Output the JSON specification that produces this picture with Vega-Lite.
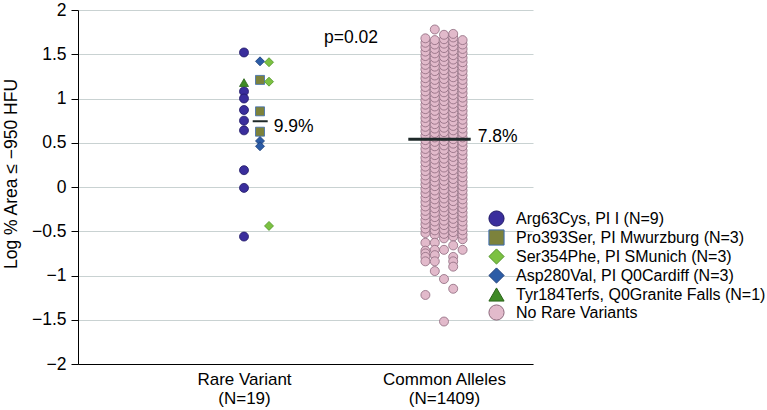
{
"$schema":"https://vega.github.io/schema/vega-lite/v6.json",
"width":455,"height":354,
"autosize":{"type":"none"},
"padding":{"left":78,"top":10,"right":234,"bottom":46},
"background":"white",
"config":{"font":"Liberation Sans","view":{"stroke":null},"axis":{"labelFont":"Liberation Sans","titleFont":"Liberation Sans","labelColor":"#000","titleColor":"#000","domainColor":"#000","tickColor":"#000"},"legend":{"labelFont":"Liberation Sans"}},
"datasets":{
"pts":[
{"g":"N","x":1.907,"y":-0.52},{"g":"N","x":1.907,"y":-0.47},{"g":"N","x":1.907,"y":-0.42},{"g":"N","x":1.907,"y":-0.37},{"g":"N","x":1.907,"y":-0.32},{"g":"N","x":1.907,"y":-0.27},{"g":"N","x":1.907,"y":-0.22},{"g":"N","x":1.907,"y":-0.17},{"g":"N","x":1.907,"y":-0.12},{"g":"N","x":1.907,"y":-0.07},{"g":"N","x":1.907,"y":-0.02},{"g":"N","x":1.907,"y":0.03},{"g":"N","x":1.907,"y":0.08},{"g":"N","x":1.907,"y":0.13},{"g":"N","x":1.907,"y":0.18},{"g":"N","x":1.907,"y":0.23},{"g":"N","x":1.907,"y":0.28},{"g":"N","x":1.907,"y":0.33},{"g":"N","x":1.907,"y":0.38},{"g":"N","x":1.907,"y":0.43},{"g":"N","x":1.907,"y":0.48},{"g":"N","x":1.907,"y":0.53},{"g":"N","x":1.907,"y":0.58},{"g":"N","x":1.907,"y":0.63},{"g":"N","x":1.907,"y":0.68},{"g":"N","x":1.907,"y":0.73},{"g":"N","x":1.907,"y":0.78},{"g":"N","x":1.907,"y":0.83},{"g":"N","x":1.907,"y":0.88},{"g":"N","x":1.907,"y":0.93},{"g":"N","x":1.907,"y":0.98},{"g":"N","x":1.907,"y":1.03},{"g":"N","x":1.907,"y":1.08},{"g":"N","x":1.907,"y":1.13},{"g":"N","x":1.907,"y":1.18},{"g":"N","x":1.907,"y":1.23},{"g":"N","x":1.907,"y":1.28},{"g":"N","x":1.907,"y":1.33},{"g":"N","x":1.907,"y":1.38},{"g":"N","x":1.907,"y":1.43},{"g":"N","x":1.907,"y":1.48},{"g":"N","x":1.907,"y":1.53},{"g":"N","x":1.907,"y":1.58},{"g":"N","x":1.907,"y":1.63},{"g":"N","x":1.907,"y":1.68},
{"g":"N","x":1.907,"y":-0.63},{"g":"N","x":1.907,"y":-0.72},{"g":"N","x":1.907,"y":-0.75},{"g":"N","x":1.907,"y":-0.79},{"g":"N","x":1.907,"y":-0.84},{"g":"N","x":1.907,"y":-1.22},
{"g":"N","x":1.954,"y":-0.54},{"g":"N","x":1.954,"y":-0.49},{"g":"N","x":1.954,"y":-0.44},{"g":"N","x":1.954,"y":-0.39},{"g":"N","x":1.954,"y":-0.34},{"g":"N","x":1.954,"y":-0.29},{"g":"N","x":1.954,"y":-0.24},{"g":"N","x":1.954,"y":-0.19},{"g":"N","x":1.954,"y":-0.14},{"g":"N","x":1.954,"y":-0.09},{"g":"N","x":1.954,"y":-0.04},{"g":"N","x":1.954,"y":0.01},{"g":"N","x":1.954,"y":0.06},{"g":"N","x":1.954,"y":0.11},{"g":"N","x":1.954,"y":0.16},{"g":"N","x":1.954,"y":0.21},{"g":"N","x":1.954,"y":0.26},{"g":"N","x":1.954,"y":0.31},{"g":"N","x":1.954,"y":0.36},{"g":"N","x":1.954,"y":0.41},{"g":"N","x":1.954,"y":0.46},{"g":"N","x":1.954,"y":0.51},{"g":"N","x":1.954,"y":0.56},{"g":"N","x":1.954,"y":0.61},{"g":"N","x":1.954,"y":0.66},{"g":"N","x":1.954,"y":0.71},{"g":"N","x":1.954,"y":0.76},{"g":"N","x":1.954,"y":0.81},{"g":"N","x":1.954,"y":0.86},{"g":"N","x":1.954,"y":0.91},{"g":"N","x":1.954,"y":0.96},{"g":"N","x":1.954,"y":1.01},{"g":"N","x":1.954,"y":1.06},{"g":"N","x":1.954,"y":1.11},{"g":"N","x":1.954,"y":1.16},{"g":"N","x":1.954,"y":1.21},{"g":"N","x":1.954,"y":1.26},{"g":"N","x":1.954,"y":1.31},{"g":"N","x":1.954,"y":1.36},{"g":"N","x":1.954,"y":1.41},{"g":"N","x":1.954,"y":1.46},{"g":"N","x":1.954,"y":1.51},{"g":"N","x":1.954,"y":1.56},{"g":"N","x":1.954,"y":1.61},{"g":"N","x":1.954,"y":1.66},
{"g":"N","x":1.954,"y":1.78},{"g":"N","x":1.954,"y":-0.63},{"g":"N","x":1.954,"y":-0.71},{"g":"N","x":1.954,"y":-0.77},{"g":"N","x":1.954,"y":-0.84},{"g":"N","x":1.954,"y":-0.95},
{"g":"N","x":2.0,"y":-0.58},{"g":"N","x":2.0,"y":-0.53},{"g":"N","x":2.0,"y":-0.48},{"g":"N","x":2.0,"y":-0.43},{"g":"N","x":2.0,"y":-0.38},{"g":"N","x":2.0,"y":-0.33},{"g":"N","x":2.0,"y":-0.28},{"g":"N","x":2.0,"y":-0.23},{"g":"N","x":2.0,"y":-0.18},{"g":"N","x":2.0,"y":-0.13},{"g":"N","x":2.0,"y":-0.08},{"g":"N","x":2.0,"y":-0.03},{"g":"N","x":2.0,"y":0.02},{"g":"N","x":2.0,"y":0.07},{"g":"N","x":2.0,"y":0.12},{"g":"N","x":2.0,"y":0.17},{"g":"N","x":2.0,"y":0.22},{"g":"N","x":2.0,"y":0.27},{"g":"N","x":2.0,"y":0.32},{"g":"N","x":2.0,"y":0.37},{"g":"N","x":2.0,"y":0.42},{"g":"N","x":2.0,"y":0.47},{"g":"N","x":2.0,"y":0.52},{"g":"N","x":2.0,"y":0.57},{"g":"N","x":2.0,"y":0.62},{"g":"N","x":2.0,"y":0.67},{"g":"N","x":2.0,"y":0.72},{"g":"N","x":2.0,"y":0.77},{"g":"N","x":2.0,"y":0.82},{"g":"N","x":2.0,"y":0.87},{"g":"N","x":2.0,"y":0.92},{"g":"N","x":2.0,"y":0.97},{"g":"N","x":2.0,"y":1.02},{"g":"N","x":2.0,"y":1.07},{"g":"N","x":2.0,"y":1.12},{"g":"N","x":2.0,"y":1.17},{"g":"N","x":2.0,"y":1.22},{"g":"N","x":2.0,"y":1.27},{"g":"N","x":2.0,"y":1.32},{"g":"N","x":2.0,"y":1.37},{"g":"N","x":2.0,"y":1.42},{"g":"N","x":2.0,"y":1.47},{"g":"N","x":2.0,"y":1.52},{"g":"N","x":2.0,"y":1.57},{"g":"N","x":2.0,"y":1.62},{"g":"N","x":2.0,"y":1.67},{"g":"N","x":2.0,"y":1.72},
{"g":"N","x":2.0,"y":-0.71},{"g":"N","x":2.0,"y":-1.04},{"g":"N","x":2.0,"y":-1.52},
{"g":"N","x":2.046,"y":-0.56},{"g":"N","x":2.046,"y":-0.51},{"g":"N","x":2.046,"y":-0.46},{"g":"N","x":2.046,"y":-0.41},{"g":"N","x":2.046,"y":-0.36},{"g":"N","x":2.046,"y":-0.31},{"g":"N","x":2.046,"y":-0.26},{"g":"N","x":2.046,"y":-0.21},{"g":"N","x":2.046,"y":-0.16},{"g":"N","x":2.046,"y":-0.11},{"g":"N","x":2.046,"y":-0.06},{"g":"N","x":2.046,"y":-0.01},{"g":"N","x":2.046,"y":0.04},{"g":"N","x":2.046,"y":0.09},{"g":"N","x":2.046,"y":0.14},{"g":"N","x":2.046,"y":0.19},{"g":"N","x":2.046,"y":0.24},{"g":"N","x":2.046,"y":0.29},{"g":"N","x":2.046,"y":0.34},{"g":"N","x":2.046,"y":0.39},{"g":"N","x":2.046,"y":0.44},{"g":"N","x":2.046,"y":0.49},{"g":"N","x":2.046,"y":0.54},{"g":"N","x":2.046,"y":0.59},{"g":"N","x":2.046,"y":0.64},{"g":"N","x":2.046,"y":0.69},{"g":"N","x":2.046,"y":0.74},{"g":"N","x":2.046,"y":0.79},{"g":"N","x":2.046,"y":0.84},{"g":"N","x":2.046,"y":0.89},{"g":"N","x":2.046,"y":0.94},{"g":"N","x":2.046,"y":0.99},{"g":"N","x":2.046,"y":1.04},{"g":"N","x":2.046,"y":1.09},{"g":"N","x":2.046,"y":1.14},{"g":"N","x":2.046,"y":1.19},{"g":"N","x":2.046,"y":1.24},{"g":"N","x":2.046,"y":1.29},{"g":"N","x":2.046,"y":1.34},{"g":"N","x":2.046,"y":1.39},{"g":"N","x":2.046,"y":1.44},{"g":"N","x":2.046,"y":1.49},{"g":"N","x":2.046,"y":1.54},{"g":"N","x":2.046,"y":1.59},{"g":"N","x":2.046,"y":1.64},{"g":"N","x":2.046,"y":1.69},{"g":"N","x":2.046,"y":1.73},
{"g":"N","x":2.046,"y":-0.66},{"g":"N","x":2.046,"y":-0.79},{"g":"N","x":2.046,"y":-0.84},{"g":"N","x":2.046,"y":-0.9},{"g":"N","x":2.046,"y":-1.15},
{"g":"N","x":2.093,"y":-0.59},{"g":"N","x":2.093,"y":-0.54},{"g":"N","x":2.093,"y":-0.49},{"g":"N","x":2.093,"y":-0.44},{"g":"N","x":2.093,"y":-0.39},{"g":"N","x":2.093,"y":-0.34},{"g":"N","x":2.093,"y":-0.29},{"g":"N","x":2.093,"y":-0.24},{"g":"N","x":2.093,"y":-0.19},{"g":"N","x":2.093,"y":-0.14},{"g":"N","x":2.093,"y":-0.09},{"g":"N","x":2.093,"y":-0.04},{"g":"N","x":2.093,"y":0.01},{"g":"N","x":2.093,"y":0.06},{"g":"N","x":2.093,"y":0.11},{"g":"N","x":2.093,"y":0.16},{"g":"N","x":2.093,"y":0.21},{"g":"N","x":2.093,"y":0.26},{"g":"N","x":2.093,"y":0.31},{"g":"N","x":2.093,"y":0.36},{"g":"N","x":2.093,"y":0.41},{"g":"N","x":2.093,"y":0.46},{"g":"N","x":2.093,"y":0.51},{"g":"N","x":2.093,"y":0.56},{"g":"N","x":2.093,"y":0.61},{"g":"N","x":2.093,"y":0.66},{"g":"N","x":2.093,"y":0.71},{"g":"N","x":2.093,"y":0.76},{"g":"N","x":2.093,"y":0.81},{"g":"N","x":2.093,"y":0.86},{"g":"N","x":2.093,"y":0.91},{"g":"N","x":2.093,"y":0.96},{"g":"N","x":2.093,"y":1.01},{"g":"N","x":2.093,"y":1.06},{"g":"N","x":2.093,"y":1.11},{"g":"N","x":2.093,"y":1.16},{"g":"N","x":2.093,"y":1.21},{"g":"N","x":2.093,"y":1.26},{"g":"N","x":2.093,"y":1.31},{"g":"N","x":2.093,"y":1.36},{"g":"N","x":2.093,"y":1.41},{"g":"N","x":2.093,"y":1.46},{"g":"N","x":2.093,"y":1.51},{"g":"N","x":2.093,"y":1.56},{"g":"N","x":2.093,"y":1.61},{"g":"N","x":2.093,"y":1.66},
{"g":"N","x":2.093,"y":-0.71},
{"g":"Arg63Cys, PI I (N=9)","x":1.0,"y":1.52},{"g":"Arg63Cys, PI I (N=9)","x":1.0,"y":1.08},{"g":"Arg63Cys, PI I (N=9)","x":1.0,"y":1.0},{"g":"Arg63Cys, PI I (N=9)","x":1.0,"y":0.87},{"g":"Arg63Cys, PI I (N=9)","x":1.0,"y":0.75},{"g":"Arg63Cys, PI I (N=9)","x":1.0,"y":0.64},{"g":"Arg63Cys, PI I (N=9)","x":1.0,"y":0.19},{"g":"Arg63Cys, PI I (N=9)","x":1.0,"y":-0.01},{"g":"Arg63Cys, PI I (N=9)","x":1.0,"y":-0.56},
{"g":"Pro393Ser, PI Mwurzburg (N=3)","x":1.08,"y":1.21},{"g":"Pro393Ser, PI Mwurzburg (N=3)","x":1.08,"y":0.855},{"g":"Pro393Ser, PI Mwurzburg (N=3)","x":1.08,"y":0.625},
{"g":"Ser354Phe, PI SMunich (N=3)","x":1.125,"y":1.41},{"g":"Ser354Phe, PI SMunich (N=3)","x":1.125,"y":1.19},{"g":"Ser354Phe, PI SMunich (N=3)","x":1.125,"y":-0.44},
{"g":"Asp280Val, PI Q0Cardiff (N=3)","x":1.08,"y":1.42},{"g":"Asp280Val, PI Q0Cardiff (N=3)","x":1.08,"y":0.52},{"g":"Asp280Val, PI Q0Cardiff (N=3)","x":1.08,"y":0.46},
{"g":"Tyr184Terfs, Q0Granite Falls (N=1)","x":1.0,"y":1.18}
],
"means":[{"grp":"Rare","x1":1.0435,"x2":1.1185,"m":0.743,"label":"9.9%"},{"grp":"Common","x1":1.8215,"x2":2.1335,"m":0.54,"label":"7.8%"}],
"pval":[{"x":1.535,"y":1.685,"label":"p=0.02"}]
},
"layer":[
{"data":{"name":"pts"},
 "mark":{"type":"point","filled":true,"size":81,"opacity":1,"strokeWidth":0.8},
 "encoding":{
  "x":{"field":"x","type":"quantitative","scale":{"domain":[0.17,2.445],"nice":false,"zero":false},
       "axis":{"values":[1,2],"title":null,"grid":false,"ticks":false,"tickSize":0,"labelPadding":7,"labelFontSize":17,"labelLineHeight":19,"labelFlush":false,"labelOverlap":false,"labelExpr":"datum.value < 1.5 ? ['Rare Variant','(N=19)'] : ['Common Alleles','(N=1409)']"}},
  "y":{"field":"y","type":"quantitative","scale":{"domain":[-2,2],"nice":false,"zero":false},
       "axis":{"values":[-2,-1.5,-1,-0.5,0,0.5,1,1.5,2],"format":".1~f","title":"Log % Area ≤ −950 HFU","titleFontSize":17.5,"titleFontWeight":"normal","titleX":-67,"titleY":163.5,"titleAlign":"center","titleBaseline":"middle","titleAngle":-90,"labelFontSize":17.5,"tickSize":7,"labelPadding":5,"grid":true,"gridColor":"#c9d2d2","labelFlush":false,"labelOverlap":false}},
  "color":{"field":"g","type":"nominal",
    "scale":{"domain":["Arg63Cys, PI I (N=9)","Pro393Ser, PI Mwurzburg (N=3)","Ser354Phe, PI SMunich (N=3)","Asp280Val, PI Q0Cardiff (N=3)","Tyr184Terfs, Q0Granite Falls (N=1)","N"],
             "range":["#3a2e9c","#7c823c","#7cc142","#2c5ca6","#3f8a26","#e2bacb"]},
    "legend":{"title":null,"orient":"none","legendX":410,"legendY":200,"labelFontSize":16,"labelColor":"#000","symbolSize":230,"symbolStrokeWidth":1,"rowPadding":-2.3,"labelOffset":11,"labelLimit":400,"padding":0,"labelExpr":"datum.label == 'N' ? 'No Rare Variants' : datum.label"}},
  "shape":{"field":"g","type":"nominal",
    "scale":{"domain":["Arg63Cys, PI I (N=9)","Pro393Ser, PI Mwurzburg (N=3)","Ser354Phe, PI SMunich (N=3)","Asp280Val, PI Q0Cardiff (N=3)","Tyr184Terfs, Q0Granite Falls (N=1)","N"],
             "range":["circle","square","diamond","diamond","triangle-up","circle"]}},
  "stroke":{"field":"g","type":"nominal",
    "scale":{"domain":["Arg63Cys, PI I (N=9)","Pro393Ser, PI Mwurzburg (N=3)","Ser354Phe, PI SMunich (N=3)","Asp280Val, PI Q0Cardiff (N=3)","Tyr184Terfs, Q0Granite Falls (N=1)","N"],
             "range":["#1f1866","#3d6db3","#4e9424","#1b3d78","#2a6418","#8e6a7d"]}}
 }},
{"data":{"name":"means"},
 "mark":{"type":"rule","color":"#1f2a2a"},
 "encoding":{"x":{"field":"x1","type":"quantitative"},"x2":{"field":"x2"},"y":{"field":"m","type":"quantitative"},
   "strokeWidth":{"condition":{"test":"datum.grp == 'Common'","value":3},"value":2}}},
{"data":{"name":"means"},"transform":[{"filter":"datum.grp == 'Rare'"}],
 "mark":{"type":"text","align":"left","baseline":"middle","dx":6,"dy":6,"fontSize":17.5,"color":"#000"},
 "encoding":{"x":{"field":"x2","type":"quantitative"},"y":{"field":"m","type":"quantitative"},"text":{"field":"label"}}},
{"data":{"name":"means"},"transform":[{"filter":"datum.grp == 'Common'"}],
 "mark":{"type":"text","align":"left","baseline":"middle","dx":7,"dy":-2,"fontSize":17.5,"color":"#000"},
 "encoding":{"x":{"field":"x2","type":"quantitative"},"y":{"field":"m","type":"quantitative"},"text":{"field":"label"}}},
{"data":{"name":"pval"},
 "mark":{"type":"text","align":"center","baseline":"middle","fontSize":17.5,"color":"#000"},
 "encoding":{"x":{"field":"x","type":"quantitative"},"y":{"field":"y","type":"quantitative"},"text":{"field":"label"}}}
]
}
